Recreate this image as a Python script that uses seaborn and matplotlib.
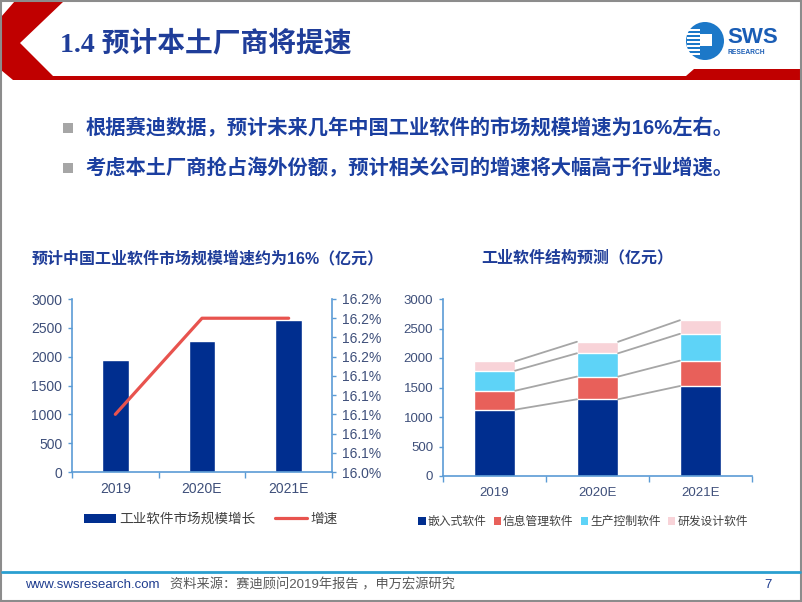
import numpy as np
import pandas as pd
import matplotlib
matplotlib.use("Agg")
import matplotlib.pyplot as plt
import seaborn as sns
from matplotlib.patches import Polygon, Rectangle, Circle, Patch
from matplotlib.lines import Line2D
from matplotlib.ticker import FuncFormatter, FixedLocator

# ---------------- data ----------------
years = ["2019", "2020E", "2021E"]
market_size = [1945, 2275, 2635]          # 亿元
growth = [16.10, 16.20, 16.20]            # %
size_ticks = [0, 500, 1000, 1500, 2000, 2500, 3000]
growth_ticks = [16.04, 16.06, 16.08, 16.10, 16.12, 16.14, 16.16, 16.18, 16.20, 16.22]

segment_names = ["嵌入式软件", "信息管理软件", "生产控制软件", "研发设计软件"]
embedded = [1125, 1300, 1525]
info_mgmt = [320, 385, 430]
prod_ctrl = [340, 395, 455]
rnd_design = [160, 195, 230]

legend_left = ["工业软件市场规模增长", "增速"]

slide_title = "1.4 预计本土厂商将提速"
bullets = ["根据赛迪数据，预计未来几年中国工业软件的市场规模增速为16%左右。",
           "考虑本土厂商抢占海外份额，预计相关公司的增速将大幅高于行业增速。"]
left_title = "预计中国工业软件市场规模增速约为16%（亿元）"
right_title = "工业软件结构预测（亿元）"
footer_site = "www.swsresearch.com"
footer_src = "资料来源：赛迪顾问2019年报告 ，申万宏源研究"
page_no = "7"

# ---------------- style ----------------
sns.set_theme(style="white")
plt.rcParams["font.family"] = ["Liberation Sans", "Noto Sans CJK SC", "DejaVu Sans"]

NAVY_TXT = "#1F3D99"
NAVY_BAR = "#002E8F"
RED_LINE = "#E8534E"
SPINE = "#5B9BD5"
TICK_TXT = "#3E4F7A"
SEG_COLORS = ["#002E8F", "#E8605A", "#5ED3F7", "#F8D3D8"]
GRAY_CONN = "#A6A6A6"

W, H = 802, 602
fig = plt.figure(figsize=(W / 100, H / 100), dpi=100)


def fx(px):
    return px / W


def fy(py):
    return 1 - py / H


# background / decoration axes in pixel coordinates
bg = fig.add_axes([0, 0, 1, 1], zorder=0)
bg.set_xlim(0, W)
bg.set_ylim(H, 0)
bg.axis("off")

# red chevron header
bg.add_patch(Polygon([(15, 1), (64, 1), (20, 43), (53, 76), (686, 76), (694, 69),
                      (801, 69), (801, 80), (13, 80), (1, 70), (1, 17)],
                     closed=True, color="#C00000", lw=0))
bg.text(60, 44, slide_title, fontsize=20, fontweight="bold", color=NAVY_TXT,
        va="center", ha="left", family=["Liberation Serif", "Noto Sans CJK SC"])

# logo
bg.add_patch(Circle((705, 41), 19, color="#1C78C8", lw=0))
for yy in range(29, 55, 4):
    bg.add_patch(Rectangle((687, yy), 13, 1.6, color="white", lw=0))
bg.add_patch(Rectangle((700, 34), 12, 12, color="white", lw=0))
bg.text(727, 37.5, "SWS", fontsize=16, fontweight="bold", color="#1A5DB5",
        va="center", ha="left")
bg.text(728, 53, "RESEARCH", fontsize=4.8, fontweight="bold", color="#1A5DB5",
        va="center", ha="left")

# bullets
for i, txt in enumerate(bullets):
    yc = 128 + 40 * i
    bg.add_patch(Rectangle((63, yc - 5), 10, 10, color="#A6A6A6", lw=0))
    bg.text(85, yc, txt, fontsize=14.6, fontweight="bold", color="#1B3FA0",
            va="center", ha="left")

# chart titles
bg.text(32, 258, left_title, fontsize=11.5, fontweight="bold", color=NAVY_TXT,
        va="center", ha="left")
bg.text(577, 258, right_title, fontsize=11.5, fontweight="bold", color=NAVY_TXT,
        va="center", ha="center")

# footer
bg.plot([2, 800], [572, 572], color="#2A9FD0", lw=2)
bg.text(25, 585, footer_site, fontsize=9.5, color="#1F3D8F", va="center", ha="left")
bg.text(170, 585, footer_src, fontsize=9.5, color="#595959", va="center", ha="left")
bg.text(768, 585, page_no, fontsize=9.5, color="#1F3D8F", va="center", ha="center")

# slide frame
bg.add_patch(Rectangle((0.5, 0.5), W - 2, H - 2, fill=False, ec="#8C8C8C", lw=1.5))

# ---------------- left chart ----------------
axL = fig.add_axes([fx(72), fy(472), (332 - 72) / W, (472 - 299) / H], zorder=2)
axL.set_facecolor("none")
df_size = pd.DataFrame({"year": years, "size": market_size})
sns.barplot(data=df_size, x="year", y="size", order=years, color=NAVY_BAR,
            saturation=1, width=0.31, ax=axL)
axL.set_xlim(-0.5, 2.5)
axL.set_ylim(0, 3000)
axL.set_yticks(size_ticks)
axL.set_xlabel("")
axL.set_ylabel("")
for s in ["top", "right"]:
    axL.spines[s].set_visible(False)
for s in ["left", "bottom"]:
    axL.spines[s].set_color(SPINE)
    axL.spines[s].set_linewidth(1.2)
axL.tick_params(axis="y", which="major", direction="out", length=3, width=1,
                color=SPINE, labelcolor=TICK_TXT, labelsize=10, pad=4, left=True)
axL.tick_params(axis="x", which="major", length=0, labelcolor=TICK_TXT,
                labelsize=10, pad=7)
axL.xaxis.set_minor_locator(FixedLocator([-0.5, 0.5, 1.5, 2.5]))
axL.tick_params(axis="x", which="minor", direction="out", length=4, width=1,
                color=SPINE, bottom=True)

axR = axL.twinx()
axR.set_facecolor("none")
sns.lineplot(x=np.arange(len(years)), y=growth, color=RED_LINE, lw=2.3, ax=axR)
axR.set_ylim(16.04, 16.22)
axR.set_yticks(growth_ticks)
axR.yaxis.set_major_formatter(FuncFormatter(lambda v, p: f"{v:.1f}%"))
axR.set_xlim(-0.5, 2.5)
axR.set_xlabel("")
axR.set_ylabel("")
for s in ["top", "left", "bottom"]:
    axR.spines[s].set_visible(False)
axR.spines["right"].set_color(SPINE)
axR.spines["right"].set_linewidth(1.2)
axR.tick_params(axis="y", direction="out", length=3, width=1, color=SPINE,
                labelcolor=TICK_TXT, labelsize=10, pad=4, right=True)

handlesL = [Patch(facecolor=NAVY_BAR, edgecolor="none"),
            Line2D([], [], color=RED_LINE, lw=2.3)]
axL.legend(handlesL, legend_left, loc="center", bbox_to_anchor=(fx(211), fy(519)),
           bbox_transform=fig.transFigure, ncol=2, frameon=False, fontsize=9.8,
           handlelength=2.35, handleheight=0.6, handletextpad=0.25, columnspacing=1.4,
           labelcolor="#404040")

# ---------------- right chart ----------------
axS = fig.add_axes([fx(443), fy(476), (752 - 443) / W, (476 - 299) / H], zorder=2)
axS.set_facecolor("none")
layers = [embedded, info_mgmt, prod_ctrl, rnd_design]
cum = np.cumsum(np.array(layers), axis=0)
for k in range(len(layers) - 1, -1, -1):
    dfk = pd.DataFrame({"year": years, "value": cum[k]})
    sns.barplot(data=dfk, x="year", y="value", order=years, color=SEG_COLORS[k],
                saturation=1, width=0.4, ax=axS, label=segment_names[k])
bw = 0.4
for k in range(len(layers)):
    for i in range(len(years) - 1):
        axS.plot([i + bw / 2, i + 1 - bw / 2], [cum[k][i], cum[k][i + 1]],
                 color=GRAY_CONN, lw=1.3, zorder=1)
axS.set_xlim(-0.5, 2.5)
axS.set_ylim(0, 3000)
axS.set_yticks(size_ticks)
axS.set_xlabel("")
axS.set_ylabel("")
for s in ["top", "right"]:
    axS.spines[s].set_visible(False)
for s in ["left", "bottom"]:
    axS.spines[s].set_color(SPINE)
    axS.spines[s].set_linewidth(1.2)
axS.tick_params(axis="y", which="major", direction="out", length=3, width=1,
                color=SPINE, labelcolor=TICK_TXT, labelsize=9.5, pad=4, left=True)
axS.tick_params(axis="x", which="major", length=0, labelcolor=TICK_TXT,
                labelsize=9.5, pad=8)
axS.xaxis.set_minor_locator(FixedLocator([-0.5, 0.5, 1.5, 2.5]))
axS.tick_params(axis="x", which="minor", direction="out", length=4, width=1,
                color=SPINE, bottom=True)

handlesS = [Patch(facecolor=c, edgecolor="none") for c in SEG_COLORS]
axS.legend(handlesS, segment_names, loc="center", bbox_to_anchor=(fx(583), fy(522)),
           bbox_transform=fig.transFigure, ncol=4, frameon=False, fontsize=8.5,
           handlelength=0.65, handleheight=0.65, handletextpad=0.15, columnspacing=0.6,
           labelcolor="#404040")

fig.savefig("out.png", dpi=100)
